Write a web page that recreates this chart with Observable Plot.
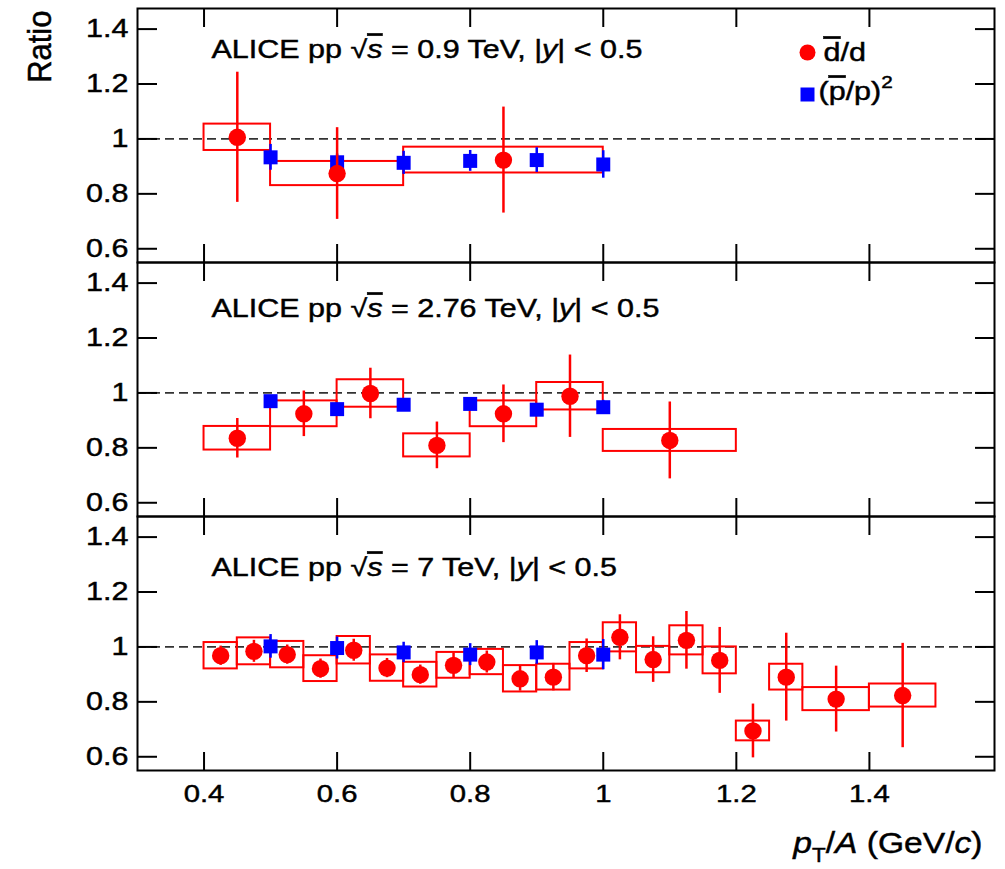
<!DOCTYPE html>
<html>
<head>
<meta charset="utf-8">
<script src="https://cdn.jsdelivr.net/npm/d3@7"></script>
<script src="https://cdn.jsdelivr.net/npm/@observablehq/plot@0.6"></script>
<style>
  body { margin: 0; background: #fff; }
  #chart svg { display: block; }
</style>
</head>
<body>
<div id="chart"></div>
<script>
// ---------------- data ----------------
const energies = ["0.9", "2.76", "7"];
const xTickLabels = [0.4, 0.6, 0.8, 1, 1.2, 1.4];
const yTickLabels = [0.6, 0.8, 1, 1.2, 1.4];
const xMajorTicks = [0.4, 0.6, 0.8, 1, 1.2, 1.4];
const yMajorTicks = [0.6, 0.8, 1, 1.2, 1.4];
const legendLabels = ["d/d", "(p/p)2"];
const yTitle = "Ratio";
const xTitle = "pT/A (GeV/c)";

// sqrt(s) = 0.9 TeV : dbar/d
const dX09 = [0.45, 0.6, 0.85];
const dY09 = [1.006, 0.874, 0.923];
const dStat09 = [0.237, 0.167, 0.193];
const dSys09 = [0.048, 0.044, 0.047];
const dLo09 = [0.4, 0.5, 0.7];
const dHi09 = [0.5, 0.7, 1.0];
// (pbar/p)^2
const pX09 = [0.5, 0.6, 0.7, 0.8, 0.9, 1.0];
const pY09 = [0.933, 0.915, 0.913, 0.92, 0.923, 0.907];
const pErr09 = [0.047, 0.03, 0.042, 0.038, 0.045, 0.05];

// sqrt(s) = 2.76 TeV
const dX276 = [0.45, 0.55, 0.65, 0.75, 0.85, 0.95, 1.1];
const dY276 = [0.835, 0.924, 0.998, 0.809, 0.924, 0.988, 0.827];
const dStat276 = [0.072, 0.083, 0.092, 0.085, 0.105, 0.15, 0.14];
const dSys276 = [0.043, 0.047, 0.05, 0.042, 0.047, 0.05, 0.04];
const dLo276 = [0.4, 0.5, 0.6, 0.7, 0.8, 0.9, 1.0];
const dHi276 = [0.5, 0.6, 0.7, 0.8, 0.9, 1.0, 1.2];
const pX276 = [0.5, 0.6, 0.7, 0.8, 0.9, 1.0];
const pY276 = [0.97, 0.941, 0.957, 0.96, 0.939, 0.948];
const pErr276 = [0.02, 0.02, 0.02, 0.02, 0.02, 0.025];

// sqrt(s) = 7 TeV
const dX7 = [0.425, 0.475, 0.525, 0.575, 0.625, 0.675, 0.725, 0.775, 0.825, 0.875,
             0.925, 0.975, 1.025, 1.075, 1.125, 1.175, 1.225, 1.275, 1.35, 1.45];
const dY7 = [0.968, 0.984, 0.972, 0.921, 0.988, 0.923, 0.899, 0.933, 0.945, 0.884,
             0.89, 0.968, 1.035, 0.954, 1.024, 0.951, 0.694, 0.89, 0.81, 0.823];
const dStat7 = [0.035, 0.04, 0.035, 0.035, 0.04, 0.035, 0.035, 0.045, 0.04, 0.045,
                0.05, 0.061, 0.082, 0.083, 0.105, 0.12, 0.098, 0.16, 0.12, 0.19];
const dSys7 = [0.048, 0.049, 0.048, 0.047, 0.05, 0.048, 0.045, 0.047, 0.046, 0.048,
               0.047, 0.048, 0.053, 0.048, 0.053, 0.049, 0.036, 0.047, 0.042, 0.042];
const dLo7 = [0.4, 0.45, 0.5, 0.55, 0.6, 0.65, 0.7, 0.75, 0.8, 0.85,
              0.9, 0.95, 1.0, 1.05, 1.1, 1.15, 1.2, 1.25, 1.3, 1.4];
const dHi7 = [0.45, 0.5, 0.55, 0.6, 0.65, 0.7, 0.75, 0.8, 0.85, 0.9,
              0.95, 1.0, 1.05, 1.1, 1.15, 1.2, 1.25, 1.3, 1.4, 1.5];
const pX7 = [0.5, 0.6, 0.7, 0.8, 0.9, 1.0];
const pY7 = [1.002, 0.996, 0.98, 0.972, 0.98, 0.972];
const pErr7 = [0.043, 0.04, 0.037, 0.04, 0.043, 0.055];

// ---------------- drawing ----------------
const RED = "#ff0000", BLUE = "#0000ff";
const FONT = "'Liberation Sans', Arial, Helvetica, sans-serif";
const W = 1005, ML = 137, MR = 11;
const xDomain = [0.3, 1.588];
const yDomain = [0.55, 1.475];

function titleText(e) { return `ALICE pp √s = ${e} TeV, |y| < 0.5`; }
function titleSegs(e) {
  return [{t: "ALICE pp "}, {t: "√"}, {t: "s", i: 1, o: 1}, {t: ` = ${e} TeV, |`}, {t: "y", i: 1}, {t: "| < 0.5"}];
}
const richMap = {};
energies.forEach(e => richMap[titleText(e)] = titleSegs(e));
richMap[legendLabels[0]] = [{t: "d", o: 1}, {t: "/d"}];
richMap[legendLabels[1]] = [{t: "("}, {t: "p", o: 1}, {t: "/p)"}, {t: "2", sup: 12, fs: "17px"}];
richMap[xTitle] = [{t: "p", i: 1}, {t: "T", sub: 9, fs: "20px"}, {t: "/"}, {t: "A", i: 1}, {t: " (GeV/"}, {t: "c", i: 1}, {t: ")"}];

function rich(el, segs) {
  const t = d3.select(el);
  t.text("");
  let shift = 0;
  for (const s of segs) {
    const ts = t.append("tspan").text(s.t);
    if (s.i) ts.attr("font-style", "italic");
    if (s.o) ts.style("text-decoration", "overline");
    if (s.fs) ts.attr("font-size", s.fs);
    const target = s.sub ? s.sub : s.sup ? -s.sup : 0;
    if (target !== shift) { ts.attr("dy", target - shift); shift = target; }
  }
}

function finishTexts(svg) {
  svg.querySelectorAll("text").forEach(t => {
    const content = t.textContent;
    const tr = t.getAttribute("transform") || "";
    let sc;
    if (content === yTitle) sc = " scale(1,1.1)";
    else if (content === xTitle) sc = " scale(1.12,1)";
    else sc = " scale(1.22,1)";
    t.setAttribute("transform", tr + sc);
    t.style.stroke = "black";
    t.style.strokeWidth = "0.45px";
    if (richMap[content]) rich(t, richMap[content]);
  });
}

function panel({energy, titleDy, dX, dY, dStat, dSys, dLo, dHi, pX, pY, pErr, height, marginTop, marginBottom, extra}) {
  const red = dX.map((x, i) => ({x, y: dY[i], stat: dStat[i], sys: dSys[i], lo: dLo[i], hi: dHi[i]}));
  const blue = pX.map((x, i) => ({x, y: pY[i], err: pErr[i]}));
  const tickOpts = {fill: "none", stroke: "black", strokeWidth: 2, label: null, tickFormat: () => ""};
  const svg = Plot.plot({
    width: W, height, marginLeft: ML, marginRight: MR, marginTop, marginBottom,
    style: {fontFamily: FONT, fontSize: "25px", color: "black", background: "white", overflow: "visible"},
    x: {domain: xDomain},
    y: {domain: yDomain},
    marks: [
      Plot.ruleY([1], {stroke: "#333", strokeWidth: 1.8, strokeDasharray: "9,5"}),
      Plot.rect(red, {x1: "lo", x2: "hi", y1: d => d.y - d.sys, y2: d => d.y + d.sys, fill: "none", stroke: RED, strokeWidth: 2}),
      Plot.ruleX(blue, {x: "x", y1: d => d.y - d.err, y2: d => d.y + d.err, stroke: BLUE, strokeWidth: 2.5}),
      Plot.dot(blue, {x: "x", y: "y", symbol: "square", r: 7.9, fill: BLUE}),
      Plot.ruleX(red, {x: "x", y1: d => d.y - d.stat, y2: d => d.y + d.stat, stroke: RED, strokeWidth: 2.5}),
      Plot.dot(red, {x: "x", y: "y", r: 8.7, fill: RED}),
      // inward ticks
      Plot.axisX({anchor: "bottom", ticks: xMajorTicks, tickSize: -18, ...tickOpts}),
      Plot.axisX({anchor: "bottom", ticks: 0.05, tickSize: -9, ...tickOpts}),
      Plot.axisX({anchor: "top", ticks: xMajorTicks, tickSize: -18, ...tickOpts}),
      Plot.axisX({anchor: "top", ticks: 0.05, tickSize: -9, ...tickOpts}),
      Plot.axisY({anchor: "left", ticks: yMajorTicks, tickSize: -20, ...tickOpts}),
      Plot.axisY({anchor: "left", ticks: 0.05, tickSize: -10, ...tickOpts}),
      Plot.axisY({anchor: "right", ticks: yMajorTicks, tickSize: -20, ...tickOpts}),
      Plot.axisY({anchor: "right", ticks: 0.05, tickSize: -10, ...tickOpts}),
      // y tick labels
      Plot.axisY(yTickLabels, {anchor: "left", tickSize: 0, tickPadding: 9, fontSize: 25, label: null, tickFormat: d => String(d)}),
      Plot.frame({stroke: "black", strokeWidth: 2}),
      Plot.text([titleText(energy)], {frameAnchor: "top-left", dx: 74, dy: titleDy, textAnchor: "start", lineAnchor: "bottom", fontSize: 25, fill: "black"}),
      ...(extra || [])
    ]
  });
  finishTexts(svg);
  return svg;
}

const chart = document.getElementById("chart");

chart.appendChild(panel({
  energy: energies[0], titleDy: 49,
  dX: dX09, dY: dY09, dStat: dStat09, dSys: dSys09, dLo: dLo09, dHi: dHi09,
  pX: pX09, pY: pY09, pErr: pErr09,
  height: 262, marginTop: 8, marginBottom: 0,
  extra: [
    Plot.text([yTitle], {frameAnchor: "top-left", dx: -97, dy: 2, rotate: -90, textAnchor: "end", lineAnchor: "middle", fontSize: 31, fill: "black"}),
    Plot.dot([legendLabels[0]], {frameAnchor: "top-left", dx: 670, dy: 44, r: 8, fill: RED}),
    Plot.text([legendLabels[0]], {frameAnchor: "top-left", dx: 686, dy: 52, textAnchor: "start", lineAnchor: "bottom", fontSize: 25, fill: "black"}),
    Plot.dot([legendLabels[1]], {frameAnchor: "top-left", dx: 670, dy: 86, symbol: "square", r: 7.9, fill: BLUE}),
    Plot.text([legendLabels[1]], {frameAnchor: "top-left", dx: 681, dy: 91, textAnchor: "start", lineAnchor: "bottom", fontSize: 25, fill: "black"})
  ]
}));

chart.appendChild(panel({
  energy: energies[1], titleDy: 54,
  dX: dX276, dY: dY276, dStat: dStat276, dSys: dSys276, dLo: dLo276, dHi: dHi276,
  pX: pX276, pY: pY276, pErr: pErr276,
  height: 254, marginTop: 0, marginBottom: 0
}));

chart.appendChild(panel({
  energy: energies[2], titleDy: 59,
  dX: dX7, dY: dY7, dStat: dStat7, dSys: dSys7, dLo: dLo7, dHi: dHi7,
  pX: pX7, pY: pY7, pErr: pErr7,
  height: 353, marginTop: 0, marginBottom: 99,
  extra: [
    Plot.axisX(xTickLabels, {anchor: "bottom", tickSize: 0, tickPadding: 14, fontSize: 24, label: null, tickFormat: d => String(d)}),
    Plot.text([xTitle], {frameAnchor: "bottom-right", dx: -12, dy: 82, textAnchor: "end", lineAnchor: "bottom", fontSize: 30, fill: "black"})
  ]
}));
</script>
</body>
</html>
